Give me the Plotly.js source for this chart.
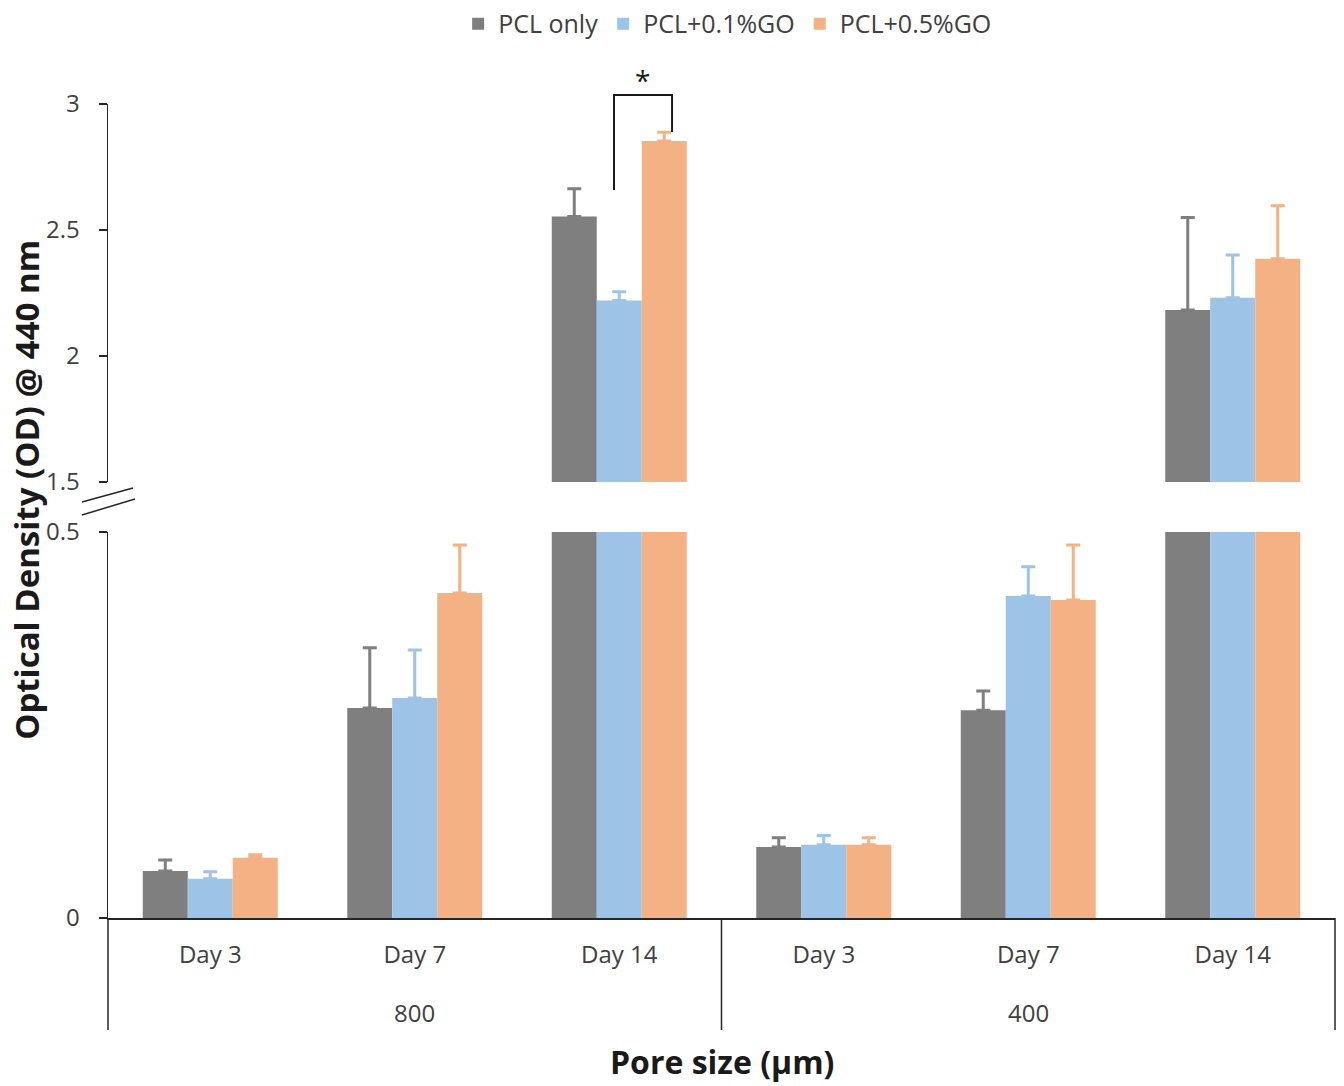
<!DOCTYPE html>
<html>
<head>
<meta charset="utf-8">
<script src="https://cdn.plot.ly/plotly-3.0.1.min.js"></script>
<style>html,body{margin:0;padding:0;background:#fff;}#chart{width:1344px;height:1086px;}</style>
</head>
<body>
<div id="chart"></div>
<script>
// ---- data ----
var poreGroups = ['800', '400'];
var poreSizes = ['800', '800', '800', '400', '400', '400'];
var days = ['Day 3', 'Day 7', 'Day 14', 'Day 3', 'Day 7', 'Day 14'];
var seriesNames = ['PCL only', 'PCL+0.1%GO', 'PCL+0.5%GO'];
var pclOnly    = [0.061, 0.272, 2.554, 0.092, 0.269, 2.183];
var pclOnlyErr = [0.014, 0.078, 0.110, 0.012, 0.025, 0.367];
var go01       = [0.051, 0.285, 2.220, 0.095, 0.417, 2.231];
var go01Err    = [0.009, 0.062, 0.035, 0.012, 0.038, 0.170];
var go05       = [0.078, 0.421, 2.853, 0.095, 0.412, 2.386];
var go05Err    = [0.004, 0.062, 0.035, 0.009, 0.071, 0.210];
var colors = ['#7f7f7f', '#9dc3e6', '#f4b183'];

var values = [pclOnly, go01, go05];
var errs = [pclOnlyErr, go01Err, go05Err];
var zeros = days.map(function () { return 0; });
var xIdx = days.map(function (d, i) { return i; });

var traces = [];
['y', 'y2'].forEach(function (ya, k) {
  for (var i = 0; i < 3; i++) {
    traces.push({
      type: 'bar',
      name: seriesNames[i],
      x: xIdx,
      y: values[i],
      customdata: poreSizes,
      xaxis: 'x',
      yaxis: ya,
      showlegend: k === 0,
      legendgroup: seriesNames[i],
      marker: { color: colors[i], line: { width: 0 } },
      error_y: {
        type: 'data', symmetric: false, array: errs[i], arrayminus: zeros,
        color: colors[i], thickness: 3, width: 7
      },
      hoverinfo: 'y'
    });
  }
});

var FONT = '"Open Sans", Lato, sans-serif';
var tickFont = { family: FONT, size: 24, color: '#404040' };
var axisCol = '#262626';

// group labels beneath the day labels
var annotations = poreGroups.map(function (g) {
  var idxs = [];
  poreSizes.forEach(function (p, i) { if (p === g) idxs.push(i); });
  var mid = (idxs[0] + idxs[idxs.length - 1]) / 2;
  return { text: g, xref: 'x', yref: 'paper', x: mid, y: -0.1155, showarrow: false,
           xanchor: 'center', yanchor: 'middle', font: tickFont };
});
annotations.push(
  { text: '<b>Optical Density (OD) @ 440 nm</b>', xref: 'paper', yref: 'paper', x: -0.0660, y: 0.526,
    textangle: -90, showarrow: false, xanchor: 'center', yanchor: 'middle',
    font: { family: FONT, size: 33, color: '#1a1a1a' } },
  { text: '<b>Pore size (µm)</b>', xref: 'paper', yref: 'paper', x: 0.5, y: -0.1769,
    showarrow: false, xanchor: 'center', yanchor: 'middle',
    font: { family: FONT, size: 32, color: '#1a1a1a' } },
  { text: '*', xref: 'paper', yref: 'paper', x: 0.436, y: 1.030, showarrow: false,
    xanchor: 'center', yanchor: 'middle',
    font: { family: FONT, size: 28, color: '#1a1a1a' } }
);

var layout = {
  width: 1344, height: 1086,
  margin: { l: 108, r: 9, t: 104, b: 168 },
  paper_bgcolor: '#fff', plot_bgcolor: '#fff',
  barmode: 'group', bargap: 0.34, bargroupgap: 0,
  showlegend: true,
  legend: {
    orientation: 'h', x: 0.505, xanchor: 'center', yref: 'container', y: 0.978, yanchor: 'middle',
    font: { family: FONT, size: 25, color: '#404040' },
    itemclick: false, traceorder: 'normal', itemwidth: 30
  },
  xaxis: {
    type: 'linear', range: [-0.5, days.length - 0.5],
    tickvals: xIdx, ticktext: days,
    showline: true, linecolor: axisCol, linewidth: 2,
    showgrid: false, zeroline: false,
    ticks: 'outside', ticklen: 14, tickcolor: 'rgba(0,0,0,0)',
    tickfont: tickFont, fixedrange: true
  },
  yaxis: {
    domain: [0, 0.4742], range: [0, 0.5], dtick: 0.5,
    showline: true, linecolor: axisCol, linewidth: 1.5,
    ticks: 'outside', ticklen: 8, tickcolor: axisCol, tickwidth: 1.5, ticklabelstandoff: 14,
    showgrid: false, zeroline: false, tickfont: tickFont, fixedrange: true
  },
  yaxis2: {
    domain: [0.5356, 1], range: [1.5, 3], dtick: 0.5,
    anchor: 'x',
    showline: true, linecolor: axisCol, linewidth: 1.5,
    ticks: 'outside', ticklen: 8, tickcolor: axisCol, tickwidth: 1.5, ticklabelstandoff: 14,
    showgrid: false, zeroline: false, tickfont: tickFont, fixedrange: true
  },
  shapes: [
    // category dividers
    { type: 'line', xref: 'paper', yref: 'paper', x0: 0, x1: 0, y0: 0, y1: -0.1376, line: { color: axisCol, width: 1.5 } },
    { type: 'line', xref: 'paper', yref: 'paper', x0: 0.5, x1: 0.5, y0: 0, y1: -0.1376, line: { color: axisCol, width: 1.5 } },
    { type: 'line', xref: 'paper', yref: 'paper', x0: 1, x1: 1, y0: 0, y1: -0.1376, line: { color: axisCol, width: 1.5 } },
    // axis break marks
    { type: 'line', xref: 'paper', yref: 'paper', x0: -0.0212, y0: 0.5111, x1: 0.0204, y1: 0.5283, line: { color: axisCol, width: 1.5 } },
    { type: 'line', xref: 'paper', yref: 'paper', x0: -0.0212, y0: 0.4951, x1: 0.0220, y1: 0.5147, line: { color: axisCol, width: 1.5 } },
    // significance bracket
    { type: 'path', xref: 'paper', yref: 'paper',
      path: 'M 0.4124 0.8943 L 0.4124 1.0111 L 0.4597 1.0111 L 0.4597 0.9656',
      line: { color: '#1a1a1a', width: 2 } }
  ],
  annotations: annotations
};

Plotly.newPlot('chart', traces, layout, { displayModeBar: false, staticPlot: true });
</script>
</body>
</html>
